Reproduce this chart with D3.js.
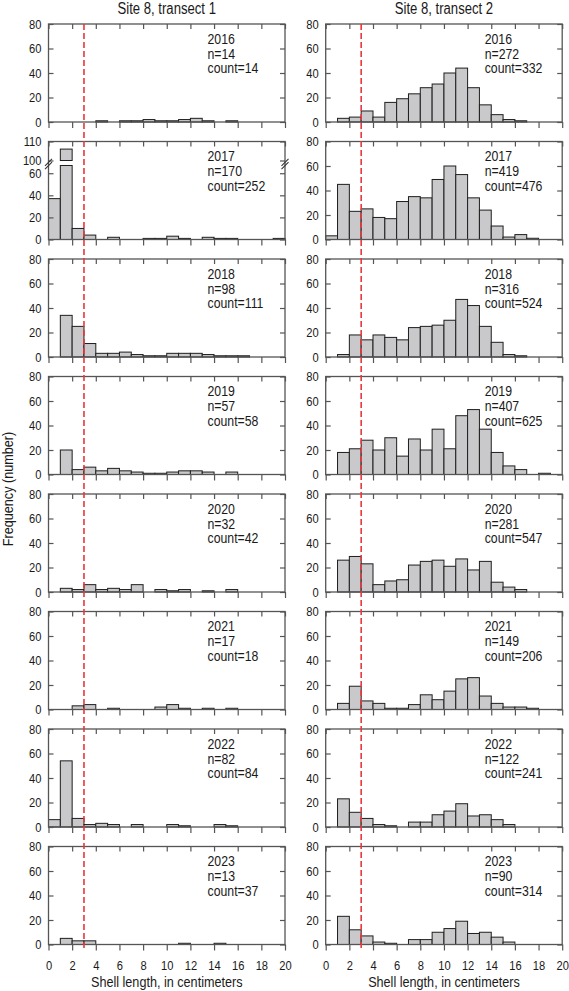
<!DOCTYPE html>
<html><head><meta charset="utf-8">
<script src="https://cdn.jsdelivr.net/npm/d3@7"></script>
<style>
body{margin:0;background:#fff;}
svg text{font-family:"Liberation Sans","Arial",sans-serif;fill:#1a1a1a;}
</style></head><body>
<svg id="chart" width="569" height="991"></svg>
<script>
// ---------------- data ----------------
const years = [2016, 2017, 2018, 2019, 2020, 2021, 2022, 2023];
const binStarts = d3.range(0, 20); // 1-cm bins, 0..20 cm
const transect1 = [
  [0,0,0,0,1,0,1,1,2,1,1,2,3,1,0,1,0,0,0,0],
  [37,106,10,4,0,2,0,0,1,1,3,1,0,2,1,1,0,0,0,1],
  [0,34,25,11,3,3,4,2,1,1,3,3,3,2,1,1,1,0,0,0],
  [0,20,4,6,3,5,3,2,1,1,2,3,3,2,0,2,0,0,0,0],
  [0,3,2,6,2,3,2,6,0,2,1,2,0,1,0,2,0,0,0,0],
  [0,0,3,4,0,1,0,0,0,2,4,1,0,1,0,1,0,0,0,0],
  [6,54,7,2,3,2,0,2,0,0,2,1,0,0,2,1,0,0,0,0],
  [0,5,3,3,0,0,0,0,0,0,0,1,0,0,1,0,0,0,0,0]
];
const transect2 = [
  [0,3,4,9,4,16,19,23,28,31,40,44,28,14,6,2,1,0,0,0],
  [3,45,23,25,18,17,31,35,34,49,60,53,34,24,11,2,4,1,0,0],
  [0,2,18,14,18,16,14,24,25,26,30,47,42,25,12,2,1,0,0,0],
  [0,18,21,28,20,30,15,29,20,37,21,48,53,37,18,7,4,0,1,0],
  [0,26,29,23,6,9,10,22,25,26,21,27,18,25,8,4,2,0,0,0],
  [0,5,19,7,5,1,1,4,12,8,15,25,26,11,5,2,2,1,0,0],
  [0,23,12,7,2,1,0,4,4,10,13,19,9,10,6,2,0,0,0,0],
  [0,23,12,7,2,1,0,4,4,10,13,19,9,10,6,2,0,0,0,0]
];
const nValues1 = [14,170,98,57,32,17,82,13];
const countValues1 = [14,252,111,58,42,18,84,37];
const nValues2 = [272,419,316,407,281,149,122,90];
const countValues2 = [332,476,524,625,547,206,241,314];
const columnTitles = ["Site 8, transect 1", "Site 8, transect 2"];
const xTicks = d3.range(0, 21, 2);
const yTicks = [0, 20, 40, 60, 80];
const brokenLowTicks = [0, 20, 40, 60];
const brokenHighTicks = [100, 110];
const cutoffLength = 3;
const xLabel = "Shell length, in centimeters";
const yLabel = "Frequency (number)";

// ---------------- layout ----------------
const svg = d3.select("#chart");
const colX = [48.5, 325.7];
const pw = 236.5, ph = 98, top0 = 24, step = 117.5;
const rowTop = years.map((_, i) => top0 + i * step);
const x = d3.scaleLinear().domain([0, 20]).range([0, pw]);
const y = d3.scaleLinear().domain([0, 80]).range([ph, 0]);
// broken scale (2017, transect 1)
const brkLow = 67;
const yLow = d3.scaleLinear().domain([0, brkLow]).range([ph, ph - 74]);
const yHigh = d3.scaleLinear().domain([100, 110]).range([19, 0]);

const FRAME = "#555", BAR = "#c9c9cb", BARSTROKE = "#1e1e1e";
const SQ = 0.82; // horizontal condensing (narrow typeface look)

function condense(sel) {
  sel.each(function () {
    const t = d3.select(this);
    const xv = +(t.attr("x") || 0);
    t.attr("x", xv / SQ);
    t.selectAll("tspan").each(function () {
      const ts = d3.select(this);
      if (ts.attr("x") !== null) ts.attr("x", +ts.attr("x") / SQ);
    });
    const prev = t.attr("transform") || "";
    t.attr("transform", prev + ` scale(${SQ},1)`);
  });
}

function styleAxis(g) {
  g.select(".domain").remove();
  g.selectAll(".tick line").attr("stroke", FRAME).attr("stroke-width", 1.2);
  g.selectAll(".tick text").attr("font-size", 13.6).attr("fill", "#1a1a1a");
  condense(g.selectAll(".tick text"));
}

const sets = [
  {data: transect1, n: nValues1, c: countValues1},
  {data: transect2, n: nValues2, c: countValues2}
];

sets.forEach((set, ci) => {
  svg.append("text")
    .attr("x", colX[ci] + pw / 2).attr("y", 14.5)
    .attr("text-anchor", "middle").attr("font-size", 16)
    .text(columnTitles[ci]).call(condense);

  years.forEach((yr, ri) => {
    const g = svg.append("g").attr("transform", `translate(${colX[ci]},${rowTop[ri]})`);
    const vals = set.data[ri];
    const broken = (ci === 0 && ri === 1);
    const bars = binStarts.map((b, i) => ({b, v: vals[i]})).filter(d => d.v > 0);

    if (!broken) {
      g.selectAll("rect.bar").data(bars).join("rect").attr("class", "bar")
        .attr("x", d => x(d.b)).attr("width", d => x(d.b + 1) - x(d.b))
        .attr("y", d => y(d.v)).attr("height", d => y(0) - y(d.v))
        .attr("fill", BAR).attr("stroke", BARSTROKE).attr("stroke-width", 1);
    } else {
      g.selectAll("rect.bar").data(bars).join("rect").attr("class", "bar")
        .attr("x", d => x(d.b)).attr("width", d => x(d.b + 1) - x(d.b))
        .attr("y", d => yLow(Math.min(d.v, brkLow)))
        .attr("height", d => yLow(0) - yLow(Math.min(d.v, brkLow)))
        .attr("fill", BAR).attr("stroke", BARSTROKE).attr("stroke-width", 1);
      g.selectAll("rect.barhi").data(bars.filter(d => d.v > 100)).join("rect").attr("class", "barhi")
        .attr("x", d => x(d.b)).attr("width", d => x(d.b + 1) - x(d.b))
        .attr("y", d => yHigh(d.v)).attr("height", d => yHigh(100) - yHigh(d.v))
        .attr("fill", BAR).attr("stroke", BARSTROKE).attr("stroke-width", 1);
    }

    // frame
    g.append("rect").attr("x", 0).attr("y", 0).attr("width", pw).attr("height", ph)
      .attr("fill", "none").attr("stroke", FRAME).attr("stroke-width", 1.3);

    // bottom axis (outward ticks)
    const bottom = g.append("g").attr("transform", `translate(0,${ph})`)
      .call(d3.axisBottom(x).tickValues(xTicks).tickSize(6).tickPadding(10)
        .tickFormat(ri === years.length - 1 ? d3.format("d") : ""));
    styleAxis(bottom);
    // top (inward ticks)
    const topAx = g.append("g").call(d3.axisBottom(x).tickValues(xTicks).tickSize(5).tickFormat(""));
    styleAxis(topAx);

    if (!broken) {
      const left = g.append("g").call(d3.axisLeft(y).tickValues(yTicks).tickSize(-5).tickPadding(7));
      styleAxis(left);
      const right = g.append("g").attr("transform", `translate(${pw},0)`)
        .call(d3.axisRight(y).tickValues(yTicks).tickSize(-5).tickFormat(""));
      styleAxis(right);
    } else {
      [[yLow, brokenLowTicks], [yHigh, brokenHighTicks]].forEach(([sc, tv]) => {
        const left = g.append("g").call(d3.axisLeft(sc).tickValues(tv).tickSize(-5).tickPadding(7));
        styleAxis(left);
        const right = g.append("g").attr("transform", `translate(${pw},0)`)
          .call(d3.axisRight(sc).tickValues(tv).tickSize(-5).tickFormat(""));
        styleAxis(right);
      });
      // break marks
      [0, pw].forEach(bx => {
        [-1.6, 1.6].forEach(off => {
          g.append("line")
            .attr("x1", bx - 3.5).attr("y1", 22.5 + off + 3.5)
            .attr("x2", bx + 3.5).attr("y2", 22.5 + off - 3.5)
            .attr("stroke", "#333").attr("stroke-width", 1.1);
        });
      });
    }

    // annotation
    const ann = g.append("text").attr("x", 159).attr("y", 20).attr("font-size", 15);
    [String(yr), "n=" + set.n[ri], "count=" + set.c[ri]].forEach((t, k) => {
      ann.append("tspan").attr("x", 159).attr("y", 20 + k * 14.7).text(t);
    });
    condense(ann);
  });

  // cutoff line
  svg.append("line")
    .attr("x1", colX[ci] + x(cutoffLength)).attr("x2", colX[ci] + x(cutoffLength))
    .attr("y1", rowTop[0]).attr("y2", rowTop[years.length - 1] + ph + 4)
    .attr("stroke", "#e8383d").attr("stroke-width", 1.6).attr("stroke-dasharray", "6,3");

  svg.append("text")
    .attr("x", colX[ci] + pw / 2).attr("y", 987)
    .attr("text-anchor", "middle").attr("font-size", 15.4)
    .text(xLabel).call(condense);
});

svg.append("text")
  .attr("transform", "translate(13,489) rotate(-90) scale(" + SQ + ",1)")
  .attr("text-anchor", "middle").attr("font-size", 15.4)
  .text(yLabel);
</script>
</body></html>
